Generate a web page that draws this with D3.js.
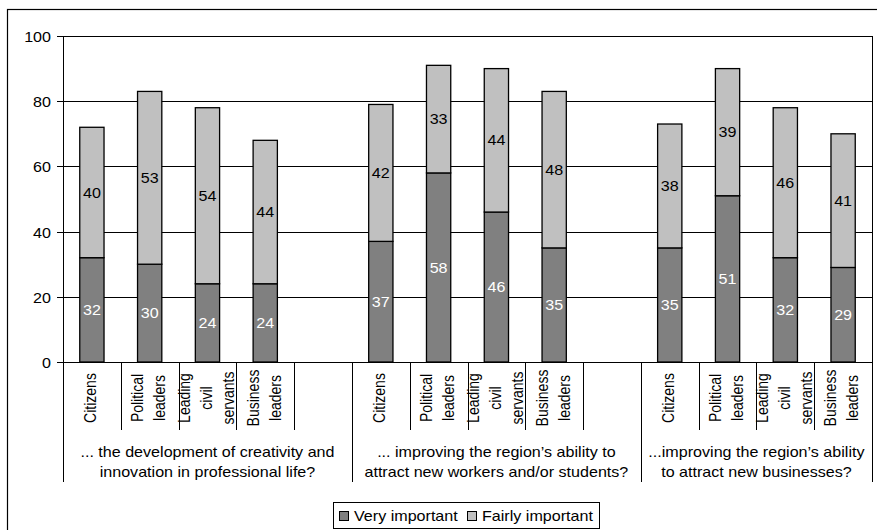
<!DOCTYPE html>
<html><head><meta charset="utf-8">
<script src="https://cdn.jsdelivr.net/npm/d3@7"></script>
<style>body{margin:0;background:#fff}svg{display:block}text{font-family:"Liberation Sans",Arial,sans-serif}</style>
</head><body>
<svg id="c" width="877" height="530"></svg>
<script>
const groups = [
  ["... the development of creativity and", "innovation in professional life?"],
  ["... improving the region\u2019s ability to", "attract new workers and/or students?"],
  ["...improving the region\u2019s ability", "to attract new businesses?"]
];
const categories = [["Citizens"], ["Political", "leaders"], ["Leading", "civil", "servants"], ["Business", "leaders"]];
const veryImportant = [[32, 30, 24, 24], [37, 58, 46, 35], [35, 51, 32, 29]];
const fairlyImportant = [[40, 53, 54, 44], [42, 33, 44, 48], [38, 39, 46, 41]];
const yTicks = [0, 20, 40, 60, 80, 100];
const seriesNames = ["Very important", "Fairly important"];
const colors = ["#808080", "#c0c0c0"];

(function () {
const svg = d3.select("#c");
const SX = 1.15;
const pLeft = 63, pRight = 872, pTop = 36, pBottom = 362;

const slots = [];
groups.forEach((g, gi) => {
  categories.forEach((c, ci) => slots.push(gi + "-" + ci));
  if (gi < groups.length - 1) slots.push(gi + "-blank");
});
const x = d3.scaleBand().domain(slots).range([pLeft, pRight]);
const y = d3.scaleLinear().domain([0, 100]).range([pBottom, pTop]);
const bw = x.bandwidth() * 0.42;

function txt(parent, tx, ty, s, anchor, rot, fill) {
  parent.append("text")
    .attr("transform", `translate(${tx},${ty}) scale(${SX},1)` + (rot ? " rotate(-90)" : ""))
    .attr("text-anchor", anchor)
    .attr("dominant-baseline", "central")
    .attr("font-size", 14)
    .attr("fill", fill || "#000")
    .text(s);
}

// outer frame
svg.append("rect").attr("x", 7.5).attr("y", 9.5).attr("width", 900).attr("height", 600)
  .attr("fill", "none").attr("stroke", "#000").attr("stroke-width", 1.2);

// gridlines
svg.append("g").selectAll("line").data(yTicks.filter(d => d > 0)).join("line")
  .attr("x1", pLeft).attr("x2", pRight).attr("y1", d => Math.round(y(d)) + 0.5).attr("y2", d => Math.round(y(d)) + 0.5)
  .attr("stroke", "#000").attr("stroke-width", 1);
// plot right border
svg.append("line").attr("x1", pRight + 0.5).attr("x2", pRight + 0.5).attr("y1", pTop).attr("y2", pBottom).attr("stroke", "#000");

// y axis
const ya = svg.append("g");
ya.append("line").attr("x1", pLeft + 0.5).attr("x2", pLeft + 0.5).attr("y1", pTop).attr("y2", pBottom).attr("stroke", "#000");
yTicks.forEach(t => {
  const yy = Math.round(y(t)) + 0.5;
  ya.append("line").attr("x1", pLeft - 6).attr("x2", pLeft).attr("y1", yy).attr("y2", yy).attr("stroke", "#000");
  txt(ya, 51, yy, t, "end", false);
});

// bars
const bars = svg.append("g");
groups.forEach((g, gi) => {
  categories.forEach((c, ci) => {
    const cx = x(gi + "-" + ci) + x.bandwidth() / 2;
    const v = veryImportant[gi][ci], f = fairlyImportant[gi][ci];
    const segs = [[0, v, 0], [v, v + f, 1]];
    segs.forEach(([a, b, s]) => {
      bars.append("rect").attr("x", cx - bw / 2).attr("width", bw)
        .attr("y", y(b)).attr("height", y(a) - y(b))
        .attr("fill", colors[s]).attr("stroke", "#000").attr("stroke-width", 1.3);
    });
    txt(bars, cx, (y(0) + y(v)) / 2, v, "middle", false, "#fff");
    txt(bars, cx, (y(v) + y(v + f)) / 2, f, "middle", false, "#000");
  });
});

// x axis
const xa = svg.append("g");
xa.append("line").attr("x1", pLeft).attr("x2", pRight + 1).attr("y1", pBottom + 0.5).attr("y2", pBottom + 0.5).attr("stroke", "#000");
slots.forEach((k, i) => {
  const xx = Math.round(x(k)) + 0.5;
  const isGroupStart = i === 0 || k.endsWith("-0");
  xa.append("line").attr("x1", xx).attr("x2", xx).attr("y1", pBottom).attr("y2", isGroupStart ? 482 : 430).attr("stroke", "#000");
});
xa.append("line").attr("x1", pRight + 0.5).attr("x2", pRight + 0.5).attr("y1", pBottom).attr("y2", 482).attr("stroke", "#000");

groups.forEach((g, gi) => {
  categories.forEach((lines, ci) => {
    const cx = x(gi + "-" + ci) + x.bandwidth() / 2 - 1.5;
    lines.forEach((ln, li) => {
      txt(xa, cx + (li - (lines.length - 1) / 2) * 22, 398, ln, "middle", true);
    });
  });
  const start = x(gi + "-0");
  const end = gi < groups.length - 1 ? x(gi + "-blank") + x.bandwidth() : pRight;
  const gc = (start + end) / 2;
  g.forEach((ln, li) => txt(xa, gc, 452 + li * 20, ln, "middle", false));
});

// legend
const lg = svg.append("g");
lg.append("rect").attr("x", 333.5).attr("y", 502.5).attr("width", 266).attr("height", 26)
  .attr("fill", "#fff").attr("stroke", "#000");
const legX = [339, 467];
seriesNames.forEach((n, i) => {
  lg.append("rect").attr("x", legX[i] + 0.5).attr("y", 511.5).attr("width", 9).attr("height", 9)
    .attr("fill", colors[i]).attr("stroke", "#000");
  txt(lg, legX[i] + 15, 516, n, "start", false);
});
})();
</script>
</body></html>
